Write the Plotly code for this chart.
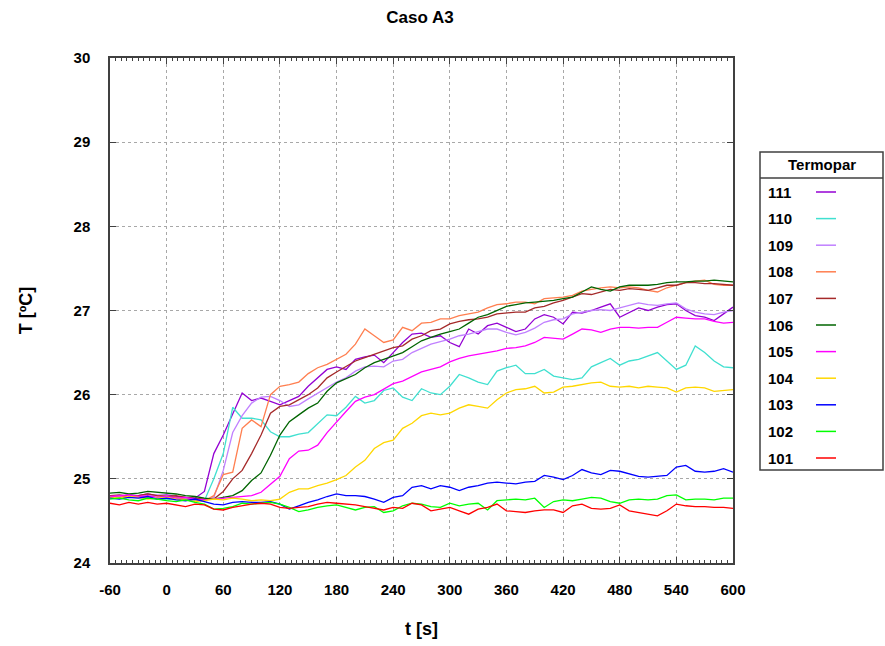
import plotly.graph_objects as go

# time samples [s]
t = [-60, -50, -40, -30, -20, -10, 0, 10, 20, 30,
     40, 50, 60, 70, 80, 90, 100, 110, 120, 130,
     140, 150, 160, 170, 180, 190, 200, 210, 220, 230,
     240, 250, 260, 270, 280, 290, 300, 310, 320, 330,
     340, 350, 360, 370, 380, 390, 400, 410, 420, 430,
     440, 450, 460, 470, 480, 490, 500, 510, 520, 530,
     540, 550, 560, 570, 580, 590, 600]

T111 = [24.80, 24.79, 24.81, 24.80, 24.82, 24.80, 24.81, 24.79, 24.78, 24.77,
        24.85, 25.30, 25.52, 25.78, 26.02, 25.93, 25.96, 25.92, 25.88, 25.93,
        25.98, 26.10, 26.20, 26.30, 26.33, 26.30, 26.42, 26.45, 26.47, 26.38,
        26.50, 26.62, 26.72, 26.73, 26.68, 26.70, 26.62, 26.57, 26.78, 26.72,
        26.82, 26.85, 26.80, 26.75, 26.78, 26.90, 26.95, 26.92, 26.84, 26.98,
        26.97, 27.00, 27.04, 27.08, 26.92, 26.98, 27.03, 27.00, 27.04, 27.07,
        27.08, 27.00, 26.94, 26.92, 26.88, 26.96, 27.04]
T110 = [24.78, 24.77, 24.79, 24.78, 24.77, 24.76, 24.75, 24.77, 24.76, 24.74,
        24.74, 25.00, 25.30, 25.85, 25.72, 25.72, 25.70, 25.56, 25.50, 25.50,
        25.53, 25.55, 25.65, 25.76, 25.75, 25.85, 25.98, 25.90, 25.93, 26.05,
        26.08, 25.97, 25.93, 26.07, 26.02, 26.00, 26.10, 26.24, 26.20, 26.15,
        26.12, 26.28, 26.32, 26.35, 26.25, 26.25, 26.30, 26.22, 26.20, 26.18,
        26.20, 26.33, 26.38, 26.43, 26.35, 26.40, 26.42, 26.46, 26.50, 26.40,
        26.30, 26.35, 26.58, 26.50, 26.40, 26.33, 26.32]
T109 = [24.80, 24.79, 24.78, 24.80, 24.79, 24.81, 24.80, 24.78, 24.77, 24.76,
        24.75, 24.78, 25.10, 25.55, 25.75, 25.90, 25.97, 25.98, 25.93, 25.86,
        25.88, 25.95, 26.02, 26.08, 26.15, 26.20, 26.28, 26.33, 26.34, 26.33,
        26.40, 26.42, 26.50, 26.55, 26.60, 26.63, 26.66, 26.70, 26.72, 26.75,
        26.78, 26.78, 26.74, 26.71, 26.74, 26.79, 26.86, 26.89, 26.90, 26.96,
        26.98, 27.00, 27.01, 27.00, 27.03, 27.06, 27.09, 27.07, 27.06, 27.08,
        27.09, 27.02, 26.98, 26.96, 26.95, 26.98, 27.00]
T108 = [24.79, 24.78, 24.80, 24.79, 24.78, 24.80, 24.79, 24.78, 24.76, 24.75,
        24.74, 24.80, 25.05, 25.08, 25.60, 25.70, 25.62, 26.00, 26.10, 26.12,
        26.15, 26.25, 26.32, 26.36, 26.42, 26.48, 26.60, 26.78, 26.70, 26.62,
        26.65, 26.80, 26.76, 26.85, 26.86, 26.90, 26.90, 26.94, 26.96, 26.98,
        27.03, 27.07, 27.08, 27.10, 27.10, 27.08, 27.14, 27.15, 27.16, 27.18,
        27.23, 27.25, 27.27, 27.28, 27.27, 27.28, 27.27, 27.24, 27.22, 27.27,
        27.30, 27.33, 27.35, 27.36, 27.31, 27.30, 27.30]
T107 = [24.80, 24.81, 24.79, 24.80, 24.82, 24.80, 24.79, 24.80, 24.78, 24.77,
        24.76, 24.76, 24.85, 25.00, 25.10, 25.30, 25.52, 25.78, 25.86, 25.88,
        25.94, 26.00, 26.08, 26.20, 26.27, 26.34, 26.40, 26.44, 26.48, 26.52,
        26.56, 26.58, 26.66, 26.70, 26.76, 26.78, 26.84, 26.87, 26.89, 26.90,
        26.92, 26.96, 26.97, 26.98, 26.98, 27.03, 27.05, 27.09, 27.12, 27.16,
        27.20, 27.19, 27.22, 27.25, 27.24, 27.26, 27.25, 27.24, 27.27, 27.30,
        27.30, 27.33, 27.33, 27.32, 27.32, 27.31, 27.30]
T106 = [24.83, 24.84, 24.82, 24.83, 24.85, 24.84, 24.83, 24.82, 24.80, 24.79,
        24.77, 24.76, 24.78, 24.80, 24.86, 24.98, 25.07, 25.28, 25.52, 25.68,
        25.76, 25.84, 25.90, 26.04, 26.14, 26.19, 26.24, 26.32, 26.38, 26.42,
        26.46, 26.50, 26.57, 26.64, 26.68, 26.72, 26.75, 26.78, 26.85, 26.92,
        26.95, 27.00, 27.05, 27.07, 27.09, 27.10, 27.11, 27.12, 27.14, 27.16,
        27.22, 27.28, 27.25, 27.23, 27.28, 27.30, 27.30, 27.30, 27.31, 27.33,
        27.34, 27.34, 27.35, 27.35, 27.36, 27.35, 27.34]
T105 = [24.79, 24.80, 24.81, 24.79, 24.80, 24.78, 24.79, 24.77, 24.78, 24.76,
        24.75, 24.76, 24.77, 24.78, 24.79, 24.80, 24.84, 24.93, 25.03, 25.24,
        25.33, 25.34, 25.40, 25.55, 25.68, 25.80, 25.92, 25.97, 26.00, 26.06,
        26.13, 26.16, 26.22, 26.27, 26.30, 26.33, 26.39, 26.43, 26.46, 26.48,
        26.50, 26.52, 26.55, 26.56, 26.58, 26.62, 26.68, 26.67, 26.66, 26.72,
        26.78, 26.77, 26.74, 26.78, 26.80, 26.80, 26.79, 26.80, 26.80, 26.86,
        26.92, 26.91, 26.90, 26.90, 26.87, 26.85, 26.86]
T104 = [24.78, 24.77, 24.79, 24.78, 24.76, 24.77, 24.78, 24.76, 24.75, 24.73,
        24.74, 24.76, 24.75, 24.77, 24.76, 24.74, 24.75, 24.74, 24.76, 24.84,
        24.88, 24.88, 24.92, 24.95, 24.99, 25.04, 25.14, 25.22, 25.36, 25.43,
        25.46, 25.60, 25.66, 25.75, 25.78, 25.76, 25.78, 25.84, 25.88, 25.86,
        25.84, 25.94, 26.02, 26.06, 26.07, 26.10, 26.02, 26.03, 26.09, 26.10,
        26.12, 26.14, 26.15, 26.10, 26.09, 26.10, 26.08, 26.10, 26.09, 26.08,
        26.03, 26.08, 26.09, 26.08, 26.04, 26.05, 26.06]
T103 = [24.77, 24.76, 24.78, 24.77, 24.79, 24.76, 24.77, 24.75, 24.74, 24.76,
        24.73, 24.70, 24.69, 24.72, 24.73, 24.72, 24.72, 24.73, 24.70, 24.64,
        24.68, 24.72, 24.75, 24.79, 24.82, 24.80, 24.80, 24.79, 24.76, 24.72,
        24.78, 24.80, 24.90, 24.92, 24.88, 24.92, 24.90, 24.86, 24.90, 24.92,
        24.95, 24.96, 24.95, 24.94, 24.96, 24.97, 25.04, 25.02, 24.99, 25.04,
        25.11, 25.07, 25.05, 25.10, 25.09, 25.06, 25.03, 25.02, 25.03, 25.04,
        25.14, 25.16, 25.09, 25.08, 25.09, 25.12, 25.08]
T102 = [24.76, 24.77, 24.75, 24.74, 24.77, 24.76, 24.74, 24.73, 24.75, 24.72,
        24.70, 24.64, 24.65, 24.67, 24.71, 24.70, 24.71, 24.72, 24.70, 24.66,
        24.61, 24.63, 24.66, 24.68, 24.69, 24.66, 24.63, 24.66, 24.67, 24.60,
        24.62, 24.68, 24.71, 24.70, 24.67, 24.66, 24.71, 24.68, 24.70, 24.71,
        24.63, 24.74, 24.75, 24.76, 24.75, 24.77, 24.66, 24.73, 24.75, 24.74,
        24.76, 24.78, 24.77, 24.73, 24.71, 24.75, 24.76, 24.75, 24.76, 24.80,
        24.81, 24.75, 24.76, 24.76, 24.75, 24.77, 24.77]
T101 = [24.71, 24.69, 24.72, 24.70, 24.72, 24.70, 24.71, 24.69, 24.67, 24.70,
        24.69, 24.64, 24.63, 24.66, 24.68, 24.70, 24.71, 24.70, 24.66, 24.65,
        24.66, 24.67, 24.70, 24.72, 24.71, 24.70, 24.69, 24.67, 24.65, 24.63,
        24.66, 24.65, 24.71, 24.69, 24.62, 24.64, 24.66, 24.62, 24.58, 24.64,
        24.66, 24.70, 24.62, 24.61, 24.60, 24.62, 24.63, 24.63, 24.60, 24.68,
        24.70, 24.65, 24.64, 24.65, 24.69, 24.62, 24.60, 24.58, 24.56, 24.62,
        24.70, 24.68, 24.67, 24.67, 24.66, 24.66, 24.65]

names = ["111", "110", "109", "108", "107", "106", "105", "104", "103", "102", "101"]
series = [T111, T110, T109, T108, T107, T106, T105, T104, T103, T102, T101]
colors = ["#9400D3", "#40E0D0", "#C080FF", "#FF7F50", "#A52A2A", "#006400",
          "#FF00FF", "#FFD700", "#0000FF", "#00FF00", "#FF0000"]

x_ticks = [-60, 0, 60, 120, 180, 240, 300, 360, 420, 480, 540, 600]
y_ticks = [24, 25, 26, 27, 28, 29, 30]

FONT = "Liberation Sans, Arial, sans-serif"

fig = go.Figure()
for name, ys, col in zip(names, series, colors):
    fig.add_trace(go.Scatter(x=t, y=ys, name=name, mode="lines",
                             line=dict(color=col, width=1.3), showlegend=False))

W, H = 885, 646
ml, mr, mt, mb = 110, 152, 58, 83
pw, ph = W - ml - mr, H - mt - mb

def px(xp):
    return (xp - ml) / pw

def py(yp):
    return (H - mb - yp) / ph

shapes = []
annotations = []
# custom legend box (text left, line sample right)
shapes.append(dict(type="rect", xref="paper", yref="paper",
                   x0=px(760), x1=px(883), y0=py(470), y1=py(152),
                   line=dict(color="#404040", width=1.5), fillcolor="white", layer="above"))
shapes.append(dict(type="line", xref="paper", yref="paper",
                   x0=px(760), x1=px(883), y0=py(178), y1=py(178),
                   line=dict(color="#404040", width=1.5)))
annotations.append(dict(text="<b>Termopar</b>", xref="paper", yref="paper",
                        x=px(822), y=py(164), showarrow=False, xanchor="center", yanchor="middle",
                        font=dict(family=FONT, size=15, color="black")))
for i, (name, col) in enumerate(zip(names, colors)):
    yy = 192 + i * 26.6
    annotations.append(dict(text="<b>%s</b>" % name, xref="paper", yref="paper",
                            x=px(766), y=py(yy), showarrow=False, xanchor="left", yanchor="middle",
                            font=dict(family=FONT, size=15, color="black")))
    shapes.append(dict(type="line", xref="paper", yref="paper",
                       x0=px(816), x1=px(836), y0=py(yy), y1=py(yy),
                       line=dict(color=col, width=1.5)))

axis_common = dict(showline=True, mirror="ticks", linecolor="#404040", linewidth=1.5,
                   ticks="inside", ticklen=6, tickwidth=1.2, tickcolor="#404040",
                   showgrid=True, gridcolor="#a8a8a8", griddash="dot", gridwidth=1,
                   zeroline=False, tickfont=dict(family=FONT, size=15, color="black", weight="bold"),
                   automargin=False)

fig.update_layout(
    width=W, height=H,
    margin=dict(l=ml, r=mr, t=mt, b=mb),
    paper_bgcolor="white", plot_bgcolor="white",
    title=dict(text="<b>Caso A3</b>", x=px(420), xref="paper", y=1 - 17 / H, yref="container",
               xanchor="center", yanchor="middle", font=dict(family=FONT, size=17, color="black")),
    xaxis=dict(range=[-60, 600], tickvals=x_ticks, ticktext=[str(v) for v in x_ticks],
               minor=dict(dtick=6, tick0=0, ticks="inside", ticklen=3, tickcolor="#404040", showgrid=False),
               ticklabelstandoff=12,
               title=dict(text="<b>t [s]</b>", standoff=26, font=dict(family=FONT, size=18, color="black")),
               **axis_common),
    yaxis=dict(range=[24, 30], tickvals=y_ticks, ticktext=[str(v) for v in y_ticks],
               ticklabelstandoff=15,
               title=dict(text="<b>T [ºC]</b>", standoff=36, font=dict(family=FONT, size=18, color="black")),
               **axis_common),
    shapes=shapes, annotations=annotations,
)

fig.write_html("out.html")
